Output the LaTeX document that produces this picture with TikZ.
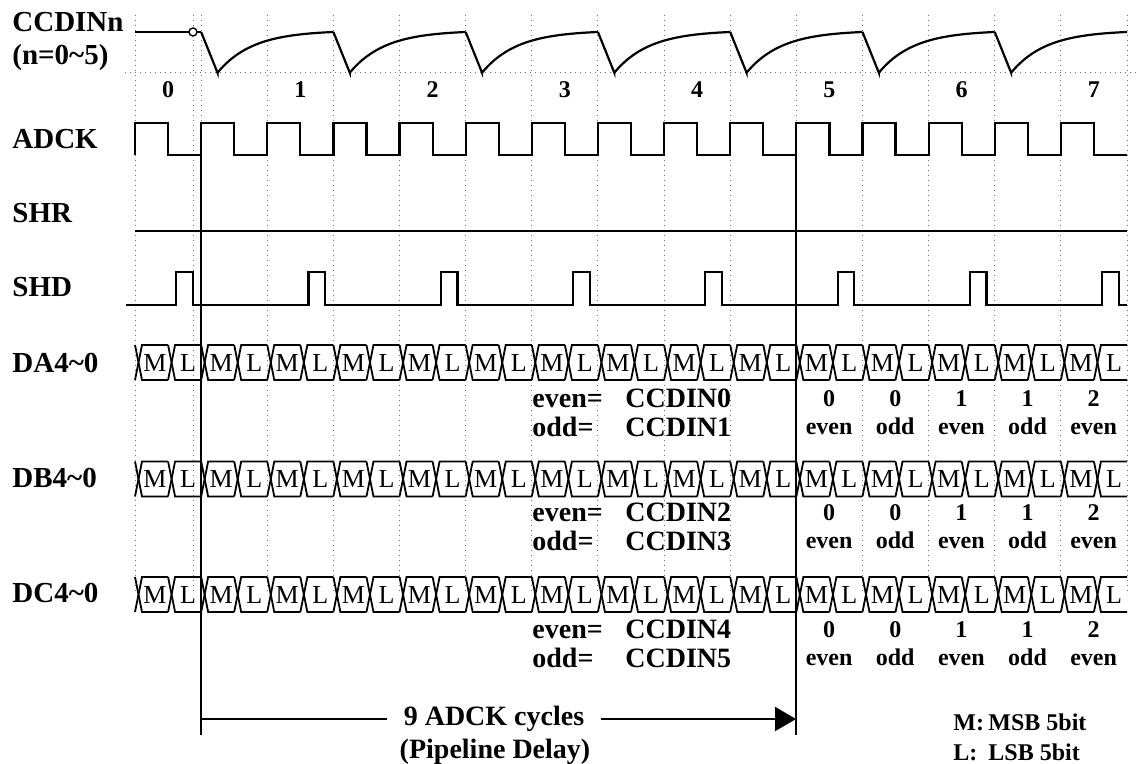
\documentclass[tikz,border=0pt]{standalone}
\usepackage{fontspec}
\setmainfont{Liberation Serif}
\usetikzlibrary{arrows.meta}
\newcommand\drawbus[2]{%
  \foreach \j in {0,...,29}{%
    \pgfmathsetmacro\busb{135+\j*33.067}%
    \pgfmathsetmacro\buse{135+(\j+1)*33.067}%
    \draw[bus] (\busb,{#1-17.5}) -- ({\busb+7},{#1+17.5}) -- (\buse,{#1+17.5});
    \draw[bus] (\busb,{#1+17.5}) -- ({\busb+7},{#1-17.5}) -- (\buse,{#1-17.5});
    \node[cell] (#2\j) at ({\busb+20},#1) {\ifodd\j\relax L\else M\fi};
  }}
\begin{document}
\begin{tikzpicture}[x=0.5pt,y=-0.5pt,
  gridline/.style={draw=black!55, dotted, line width=0.5pt},
  wave/.style={draw=black, line width=1.1pt, line join=miter},
  bus/.style={draw=black, line width=0.9pt},
  lbl/.style={anchor=west, inner sep=0pt, font=\fontsize{14.5}{16}\selectfont\bfseries},
  num/.style={inner sep=0pt, font=\fontsize{12}{13}\selectfont\bfseries},
  cell/.style={inner sep=0pt, font=\fontsize{13}{14}\selectfont},
  txt/.style={anchor=base west, inner sep=0pt, font=\fontsize{14}{16}\selectfont\bfseries},
  sm/.style={anchor=base, inner sep=0pt, font=\fontsize{12}{13}\selectfont\bfseries},
  note/.style={anchor=base west, inner sep=0pt, font=\fontsize{12}{14}\selectfont\bfseries},
]
\useasboundingbox (0,0) rectangle (1138,764);
\fill[white] (0,0) rectangle (1138,764);
% grid
\foreach \k in {0,...,15} \draw[gridline] ({135+\k*66.133},15) -- ({135+\k*66.133},595);
\draw[gridline] (193,15) -- (193,595);
\draw[gridline] (125,72.7) -- (1138,72.7);
% labels
\node[lbl] (lccd) at (12,22.5) {CCDINn};
\node[lbl] (lccdn) at (12,58) {(n=0\textasciitilde 5)};
\node[lbl] (ladck) at (12,139) {ADCK};
\node[lbl] (lshr) at (12,213) {SHR};
\node[lbl] (lshd) at (12,287) {SHD};
\node[lbl] (lda) at (12,363) {DA4\textasciitilde 0};
\node[lbl] (ldb) at (12,478) {DB4\textasciitilde 0};
\node[lbl] (ldc) at (12,593) {DC4\textasciitilde 0};
% pixel numbers
\foreach \k in {0,...,7} \node[num] (n\k) at ({168.067+\k*132.267},90) {\k};
% CCDINn waveform
\draw[wave] (135,32) -- (201.13,32);
\foreach \k in {0,...,6}{
  \draw[wave] ({201.13+\k*132.267},32) -- ({217.5+\k*132.267},72.7)
    -- plot[domain=0:115.9,samples=40] ({217.5+\k*132.267+\x},{32+40.7*(exp(-\x/35)-0.0366)/(1-0.0366)});
}
\draw[line width=0.7pt, fill=white] (193,32) circle[radius=2pt];
% ADCK
\draw[wave] (135,155) \foreach \k in {0,...,14}{ -- ({135+\k*66.133},155) -- ({135+\k*66.133},123) -- ({168.067+\k*66.133},123) -- ({168.067+\k*66.133},155) } -- (1127,155);
% SHR
\draw[wave] (135,230.7) -- (1127,230.7);
% SHD
\draw[wave] (126,305) \foreach \k in {0,...,7}{ -- ({176.3+\k*132.267},305) -- ({176.3+\k*132.267},272) -- ({192.9+\k*132.267},272) -- ({192.9+\k*132.267},305) } -- (1127,305);
% buses
\drawbus{362.5}{da}
\drawbus{479}{db}
\drawbus{594.5}{dc}
% bus notes
\foreach \r/\a/\b in {398/0/1, 512/2/3, 629/4/5}{
  \node[txt] (ev\a) at (532,{\r+9}) {even=};
  \node[txt] (cc\a) at (625,{\r+9}) {CCDIN\a};
  \node[txt] (od\b) at (532,{\r+38}) {odd=};
  \node[txt] (cc\b) at (625,{\r+38}) {CCDIN\b};
  \foreach \k/\n/\p in {0/0/even,1/0/odd,2/1/even,3/1/odd,4/2/even}{
    \node[sm] (s\r-\k) at ({829.1+\k*66.133},{\r+8}) {\n};
    \node[sm] (p\r-\k) at ({829.1+\k*66.133},{\r+36}) {\p};
  }
}
% pipeline markers
\coordinate (tl) at (200.5,155);
\coordinate (bl) at (200.5,735);
\coordinate (tr) at (796,155);
\coordinate (br) at (796,735);
\draw[wave, line width=1pt] (tl) -- (bl);
\draw[wave, line width=1pt] (tr) -- (br);
\coordinate (pl) at (200.5,719);
\coordinate (pr) at (796,719);
\node[inner xsep=8pt, inner ysep=0pt, font=\fontsize{14}{16}\selectfont\bfseries] (cyc) at (494,719) {9 ADCK cycles};
\node[inner sep=0pt, font=\fontsize{14}{16}\selectfont\bfseries] (pd) at (495,752) {(Pipeline Delay)};
\draw[wave, line width=1pt] (pl) -- (cyc.west);
\draw[wave, line width=1pt, -{Triangle[length=10.5pt,width=12pt]}] (cyc.east) -- (pr);
% legend
\node[note] (m1) at (953,730) {M:};
\node[note] (m2) at (988,730) {MSB 5bit};
\node[note] (l1) at (953,760) {L:};
\node[note] (l2) at (988,760) {LSB 5bit};
\end{tikzpicture}
\end{document}
